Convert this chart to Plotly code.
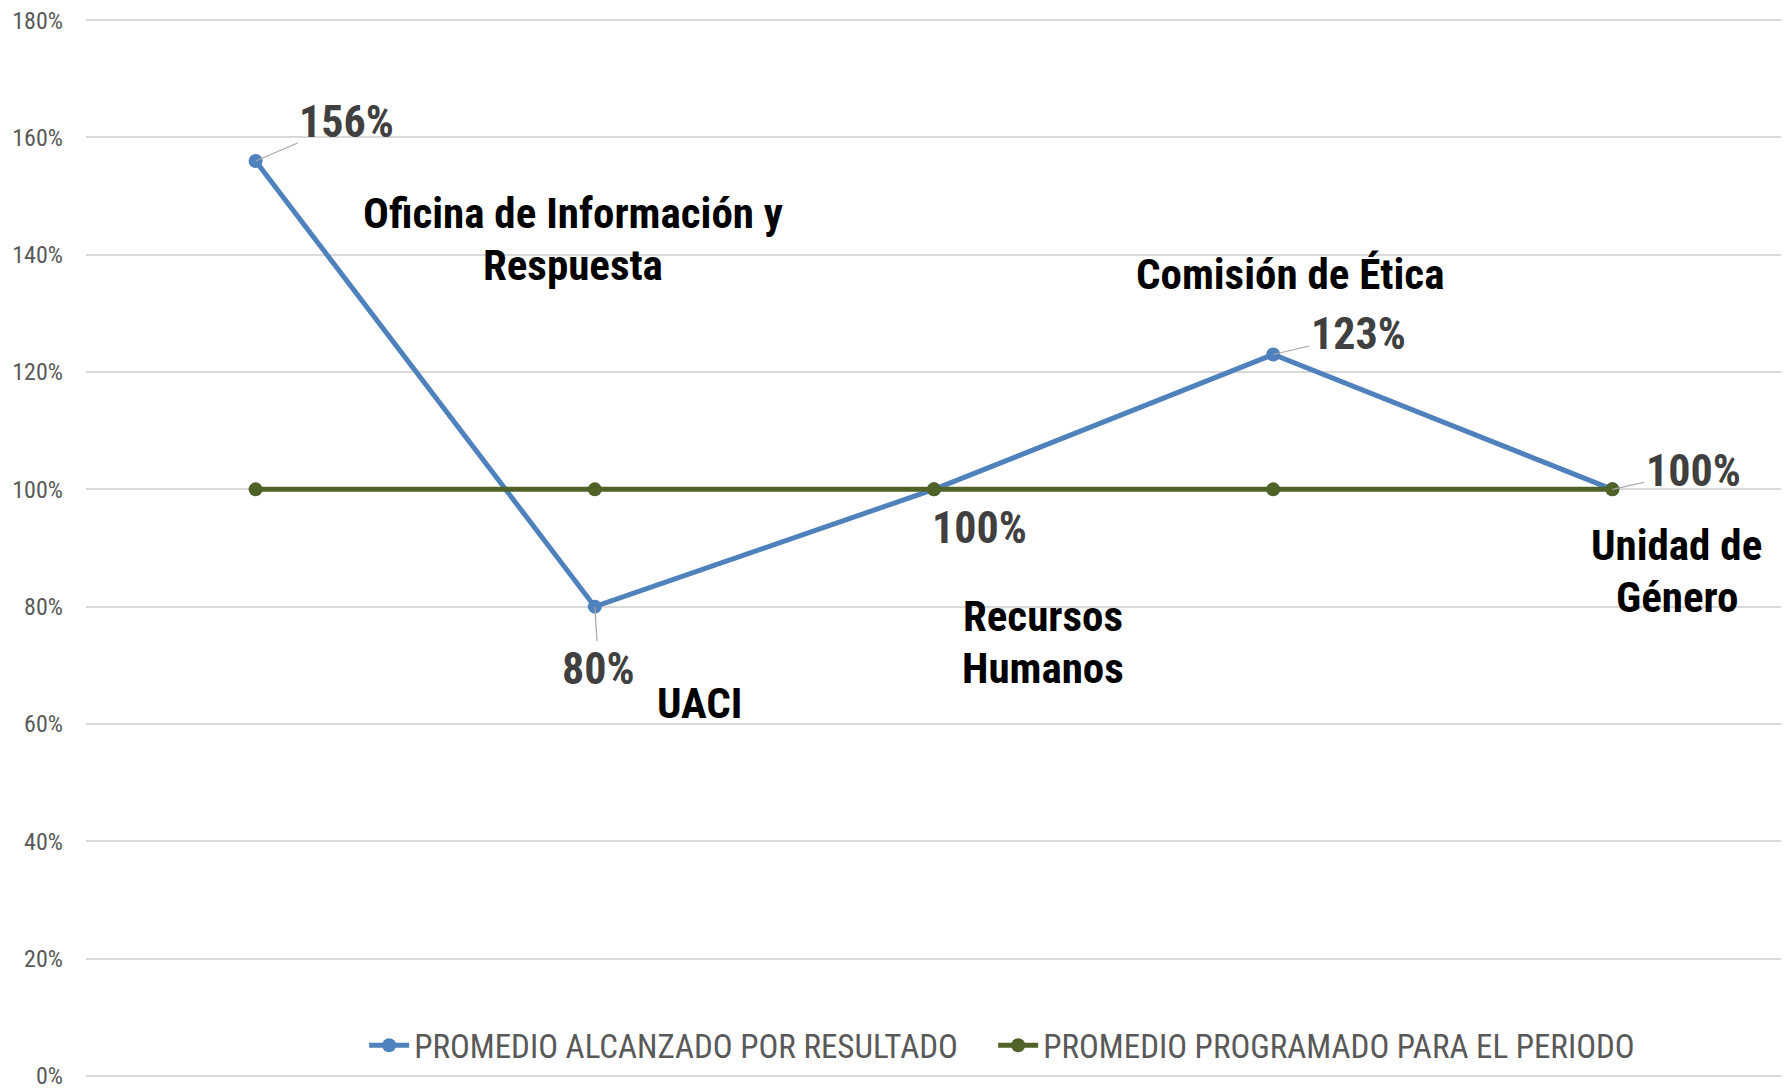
import plotly.graph_objects as go

categories = ["Oficina de Información y Respuesta", "UACI", "Recursos Humanos",
              "Comisión de Ética", "Unidad de Género"]
alcanzado = [1.56, 0.80, 1.00, 1.23, 1.00]
programado = [1.00, 1.00, 1.00, 1.00, 1.00]
alcanzado_labels = ["156%", "80%", "100%", "123%", "100%"]
category_labels = [["Oficina de Información y", "Respuesta"], ["UACI"], ["Recursos", "Humanos"],
                   ["Comisión de Ética"], ["Unidad de", "Género"]]
y_ticks = [0, 0.2, 0.4, 0.6, 0.8, 1.0, 1.2, 1.4, 1.6, 1.8]

FONT = "Liberation Sans Narrow, Arial Narrow, Roboto Condensed, DejaVu Sans Condensed, sans-serif"
BLUE = "#4F81BD"
GREEN = "#4F6228"

fig = go.Figure()
fig.add_trace(go.Scatter(
    x=categories, y=alcanzado, mode="lines+markers",
    # trailing no-break spaces widen the gap between the legend entries
    name="PROMEDIO ALCANZADO POR RESULTADO\u00a0\u00a0\u00a0\u00a0",
    line=dict(color=BLUE, width=5), marker=dict(size=14, color=BLUE),
))
fig.add_trace(go.Scatter(
    x=categories, y=programado, mode="lines+markers",
    name="PROMEDIO PROGRAMADO PARA EL PERIODO",
    line=dict(color=GREEN, width=5), marker=dict(size=14, color=GREEN),
))

# value labels (offsets in px from the point, leader line where Excel drew one)
value_offsets = [(91, -39, True), (4, 62, True), (45, 39, False), (85, -20, True), (81, -18, True)]
for i, (lab, (ax, ay, arrow)) in enumerate(zip(alcanzado_labels, value_offsets)):
    fig.add_annotation(
        x=i, y=alcanzado[i], text=lab, showarrow=arrow,
        ax=ax, ay=ay, arrowhead=0, arrowwidth=1.2, arrowcolor="#A6A6A6",
        xshift=0 if arrow else ax, yshift=0 if arrow else -ay,
        font=dict(family=FONT, size=44, color="#404040", weight="bold"),
    )

# category name labels placed in the plot area, one annotation per line
cat_pos = [(0.935, 1.422), (1.31, 0.63), (2.32, 0.735), (3.05, 1.362), (4.19, 0.856)]
line_step = 52
for lines, (cx, cy) in zip(category_labels, cat_pos):
    n = len(lines)
    for k, txt in enumerate(lines):
        fig.add_annotation(
            x=cx, y=cy, text=txt, showarrow=False,
            yshift=3 + (n - 1) / 2 * line_step - k * line_step,
            font=dict(family=FONT, size=43, color="#000000", weight="bold"),
        )

# page body has an 8px margin, so the margins are trimmed by that much
fig.update_layout(
    width=1789, height=1088,
    paper_bgcolor="white", plot_bgcolor="white",
    margin=dict(l=78, r=15, t=11, b=19),
    font=dict(family=FONT, color="#595959"),
    showlegend=True,
    legend=dict(
        orientation="h", x=0.164, xanchor="left", y=0.030, yanchor="middle",
        font=dict(family=FONT, size=33, color="#595959"),
        bgcolor="rgba(0,0,0,0)", itemwidth=40,
    ),
)
fig.update_xaxes(
    range=[-0.5, 4.5], showticklabels=False, showgrid=False,
    showline=False, zeroline=False, automargin=False,
)
fig.update_yaxes(
    range=[-0.002, 1.802], tickvals=y_ticks, tickformat=".0%",
    showgrid=True, gridcolor="#D9D9D9", gridwidth=1.5,
    zeroline=False, showline=False, ticks="", automargin=False,
    tickfont=dict(family=FONT, size=24, color="#595959"),
    ticklabelstandoff=22, ticklabeloverflow="allow",
)

fig.write_html("out.html")
